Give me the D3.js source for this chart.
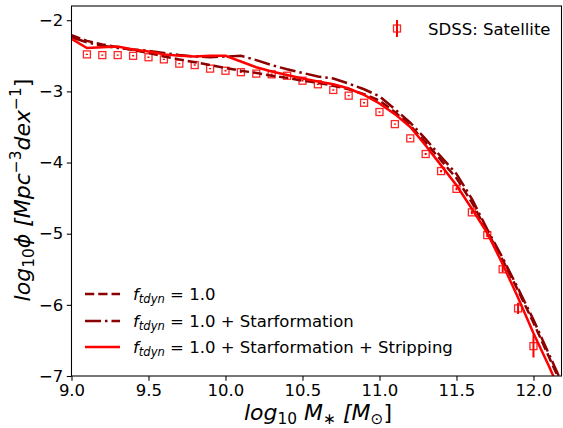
<!DOCTYPE html>
<html>
<head>
<meta charset="utf-8">
<script src="https://cdn.jsdelivr.net/npm/d3@7"></script>
<style>
body { margin: 0; background: #fff; }
text { font-family: "DejaVu Sans", sans-serif; fill: #000; }
</style>
</head>
<body>
<svg id="chart" width="563" height="428"></svg>
<script>
// model mass bins (log10 M*)
var massBins = [9.0, 9.1, 9.2, 9.3, 9.4, 9.5, 9.6, 9.7, 9.8, 9.9, 10.0, 10.1, 10.2, 10.3, 10.4, 10.5, 10.6,
    10.7, 10.8, 10.9, 11.0, 11.1, 11.2, 11.3, 11.4, 11.5, 11.6, 11.7, 11.8, 11.9, 12.0, 12.1, 12.2];

// f_tdyn = 1.0
var phiTdyn = [-2.21, -2.29, -2.34, -2.38, -2.42, -2.46, -2.51, -2.55, -2.59, -2.63, -2.67, -2.71, -2.74,
    -2.78, -2.81, -2.85, -2.88, -2.92, -2.97, -3.04, -3.13, -3.29, -3.48, -3.72, -3.97, -4.22, -4.56,
    -4.97, -5.37, -5.80, -6.25, -6.73, -7.21];

// + Starformation
var phiStarform = [-2.24, -2.31, -2.36, -2.39, -2.41, -2.43, -2.46, -2.49, -2.51, -2.52, -2.51, -2.50, -2.56,
    -2.63, -2.69, -2.74, -2.79, -2.82, -2.89, -2.97, -3.07, -3.25, -3.44, -3.67, -3.92, -4.16, -4.51,
    -4.94, -5.34, -5.77, -6.21, -6.69, -7.17];

// + Starformation + Stripping
var phiStripping = [-2.26, -2.39, -2.38, -2.37, -2.41, -2.44, -2.48, -2.50, -2.51, -2.50, -2.50, -2.58, -2.66,
    -2.72, -2.77, -2.82, -2.86, -2.90, -2.96, -3.05, -3.17, -3.32, -3.50, -3.76, -4.04, -4.32, -4.65,
    -4.99, -5.43, -5.90, -6.40, -6.86, -7.35];

// SDSS satellites
var sdssMass = [9.1, 9.2, 9.3, 9.4, 9.5, 9.6, 9.7, 9.8, 9.9, 10.0, 10.1, 10.2, 10.3, 10.4, 10.5, 10.6, 10.7,
    10.8, 10.9, 11.0, 11.1, 11.2, 11.3, 11.4, 11.5, 11.6, 11.7, 11.8, 11.9, 12.0];
var sdssPhi = [-2.48, -2.49, -2.49, -2.50, -2.52, -2.55, -2.61, -2.63, -2.68, -2.71, -2.73, -2.75, -2.76,
    -2.78, -2.85, -2.90, -2.98, -3.06, -3.16, -3.29, -3.46, -3.66, -3.88, -4.12, -4.37, -4.70, -5.02,
    -5.50, -6.05, -6.58];
var sdssErr = [0.01, 0.01, 0.01, 0.01, 0.01, 0.01, 0.01, 0.01, 0.01, 0.01, 0.01, 0.01, 0.01, 0.01, 0.01,
    0.01, 0.01, 0.01, 0.01, 0.01, 0.01, 0.01, 0.015, 0.015, 0.02, 0.025, 0.03, 0.04, 0.08, 0.16];

var xTicks = [9.0, 9.5, 10.0, 10.5, 11.0, 11.5, 12.0];
var yTicks = [-2, -3, -4, -5, -6, -7];

var modelNames = ["= 1.0", "= 1.0 + Starformation", "= 1.0 + Starformation + Stripping"];

// axes box (note: "top" is reserved on window, so prefix everything)
var axL = 71.5, axR = 561.5, axT = 6, axB = 376;
var fs = 16.5;

var svg = d3.select("#chart");

var x = d3.scaleLinear().domain([9.0, 12.182]).range([axL, axR]);
var y = d3.scaleLinear().domain([-7, -1.80]).range([axB, axT]);

svg.append("clipPath").attr("id", "clip")
    .append("rect").attr("x", axL).attr("y", axT).attr("width", axR - axL).attr("height", axB - axT);

// mathtext-ish helper: parts = [text, italic?, "sub"|"sup"|null]
function mtext(t, parts, size) {
    var cur = 0;
    parts.forEach(function(p) {
        var off = p[2] == "sub" ? 0.2 * size : (p[2] == "sup" ? -0.42 * size : 0);
        var ts = t.append("tspan").text(p[0]).attr("dy", off - cur)
            .style("font-size", (p[2] ? size * 0.7 : size) + "px");
        if (p[1]) ts.style("font-style", "italic");
        cur = off;
    });
}

var series = [
    {vals: phiTdyn, color: "#8b0000", dash: "9.25,4"},
    {vals: phiStarform, color: "#8b0000", dash: "16,4,2.5,4"},
    {vals: phiStripping, color: "#ff0000", dash: null}
];

var line = d3.line()
    .x(function(d, i) { return x(massBins[i]); })
    .y(function(d) { return y(d); });

var plot = svg.append("g").attr("clip-path", "url(#clip)");

// sdss points with error bars
var pts = plot.selectAll("g.pt").data(sdssMass).enter().append("g").attr("class", "pt");
pts.append("line")
    .attr("x1", function(d) { return x(d); })
    .attr("x2", function(d) { return x(d); })
    .attr("y1", function(d, i) { return y(sdssPhi[i] + sdssErr[i]); })
    .attr("y2", function(d, i) { return y(sdssPhi[i] - sdssErr[i]); })
    .style("stroke", "#ff0000").style("stroke-width", 2);
pts.append("rect")
    .attr("x", function(d) { return x(d) - 3.5; })
    .attr("y", function(d, i) { return y(sdssPhi[i]) - 3.5; })
    .attr("width", 7).attr("height", 7)
    .style("fill", "none").style("stroke", "#ff0000").style("stroke-width", 1.3).style("opacity", 0.85);

series.forEach(function(s) {
    plot.append("path").datum(s.vals)
        .attr("d", line)
        .style("fill", "none")
        .style("stroke", s.color)
        .style("stroke-width", 2.5)
        .style("stroke-dasharray", s.dash);
});

// axes
var xAxis = d3.axisBottom(x).tickValues(xTicks).tickFormat(d3.format(".1f")).tickSizeOuter(0).tickSize(4.7).tickPadding(3.5);
var yAxis = d3.axisLeft(y).tickValues(yTicks).tickFormat(d3.format("d")).tickSizeOuter(0).tickSize(4.7).tickPadding(3.5);

var gx = svg.append("g").attr("transform", "translate(0," + axB + ")").call(xAxis);
var gy = svg.append("g").attr("transform", "translate(" + axL + ",0)").call(yAxis);
[gx, gy].forEach(function(g) {
    g.select(".domain").remove();
    g.selectAll("line").style("stroke", "#000").style("stroke-width", 1.07);
    g.selectAll("text").style("font-size", fs + "px").style("font-family", "DejaVu Sans").attr("fill", "#000");
});

svg.append("rect").attr("x", axL).attr("y", axT).attr("width", axR - axL).attr("height", axB - axT)
    .style("fill", "none").style("stroke", "#000").style("stroke-width", 1.07);

// axis labels
var xl = svg.append("text").attr("x", 318).attr("y", 420).attr("text-anchor", "middle");
mtext(xl, [["log", true, null], ["10", false, "sub"], [" M", true, null], ["\u2217", false, "sub"],
    [" [M", true, null], ["\u2299", false, "sub"], ["]", false, null]], 22);

var yl = svg.append("text").attr("transform", "translate(30," + 190 + ") rotate(-90)").attr("text-anchor", "middle");
mtext(yl, [["log", true, null], ["10", false, "sub"], ["\u03d5", true, null], [" [Mpc", true, null],
    ["\u22123", false, "sup"], ["dex", true, null], ["\u22121", false, "sup"], ["]", false, null]], 22);

// top-right legend
var lg1 = svg.append("g");
lg1.append("line").attr("x1", 397).attr("x2", 397).attr("y1", 20).attr("y2", 37)
    .style("stroke", "#ff0000").style("stroke-width", 2);
lg1.append("rect").attr("x", 393.5).attr("y", 25).attr("width", 7).attr("height", 7)
    .style("fill", "none").style("stroke", "#ff0000").style("stroke-width", 1.3).style("opacity", 0.85);
lg1.append("text").attr("x", 428).attr("y", 35).style("font-size", fs + "px").text("SDSS: Satellite");

// bottom-left legend
var legY = [294, 321, 347];
series.forEach(function(s, i) {
    svg.append("line").attr("x1", 85).attr("x2", 120).attr("y1", legY[i]).attr("y2", legY[i])
        .style("stroke", s.color).style("stroke-width", 2.5).style("stroke-dasharray", s.dash);
    var t = svg.append("text").attr("x", 133).attr("y", legY[i] + 6);
    mtext(t, [["f", true, null], ["tdyn", true, "sub"], [" " + modelNames[i], false, null]], fs);
});
</script>
</body>
</html>
